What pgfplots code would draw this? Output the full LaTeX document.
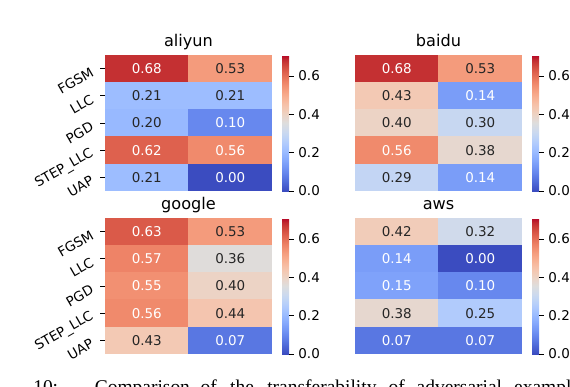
\documentclass[border=0pt]{standalone}
\usepackage{fontspec}
\setmainfont{DejaVu Sans}
\newfontfamily\capfont{Liberation Serif}
\usepackage{pgfplots}
\pgfplotsset{compat=1.18}
\usepackage{pgfplotstable}

\definecolor{annot}{RGB}{38,38,38}

% one heatmap cell: 2 columns x 5 rows on a 125.25pt x 102pt axis
\pgfdeclareplotmark{cell}{%
  \pgfpathrectangle{\pgfpoint{-31.4pt}{-10.3pt}}{\pgfpoint{62.8pt}{20.6pt}}%
  \pgfusepathqfill}

% x y value white-text(1)/dark-text(0)
\pgfplotstableread{
x y v w
0 0 0.68 1
1 0 0.53 0
0 1 0.21 0
1 1 0.21 0
0 2 0.20 0
1 2 0.10 1
0 3 0.62 1
1 3 0.56 1
0 4 0.21 0
1 4 0.00 1
}\aliyun
\pgfplotstableread{
x y v w
0 0 0.68 1
1 0 0.53 0
0 1 0.43 0
1 1 0.14 1
0 2 0.40 0
1 2 0.30 0
0 3 0.56 1
1 3 0.38 0
0 4 0.29 0
1 4 0.14 1
}\baidu
\pgfplotstableread{
x y v w
0 0 0.63 1
1 0 0.53 0
0 1 0.57 1
1 1 0.36 0
0 2 0.55 1
1 2 0.40 0
0 3 0.56 1
1 3 0.44 0
0 4 0.43 0
1 4 0.07 1
}\google
\pgfplotstableread{
x y v w
0 0 0.42 0
1 0 0.32 0
0 1 0.14 1
1 1 0.00 1
0 2 0.15 1
1 2 0.10 1
0 3 0.38 0
1 3 0.25 0
0 4 0.07 1
1 4 0.07 1
}\aws

\pgfplotsset{
  colormap={coolwarm}{
    rgb255=(59,76,192) rgb255=(68,90,204) rgb255=(77,104,215) rgb255=(87,117,225)
    rgb255=(98,130,234) rgb255=(108,142,241) rgb255=(119,154,247) rgb255=(130,165,251)
    rgb255=(141,176,254) rgb255=(152,185,255) rgb255=(163,194,255) rgb255=(174,201,253)
    rgb255=(184,208,249) rgb255=(194,213,244) rgb255=(204,217,238) rgb255=(213,219,230)
    rgb255=(221,221,221) rgb255=(229,216,209) rgb255=(236,211,197) rgb255=(241,204,184)
    rgb255=(245,196,173) rgb255=(247,187,160) rgb255=(247,177,148) rgb255=(247,166,135)
    rgb255=(244,154,123) rgb255=(241,141,111) rgb255=(236,127,99) rgb255=(229,112,88)
    rgb255=(222,96,77) rgb255=(213,80,66) rgb255=(203,62,56) rgb255=(192,40,47)
    rgb255=(180,4,38)},
  /pgf/number format/assume math mode=true,
  heat/.style={
    scale only axis, width=125.25pt, height=102pt,
    enlargelimits=false,
    xmin=-0.5, xmax=1.5, ymin=-0.5, ymax=4.5, y dir=reverse,
    axis line style={draw=none},
    xtick=\empty, ytick={0,...,4},
    ytick pos=left,
    tick align=outside, major tick length=3.5pt,
    major tick style={black, line width=0.6pt},
    minor xtick={0.5}, minor ytick={0.5,1.5,2.5,3.5},
    xminorgrids, yminorgrids,
    minor grid style={white, opacity=0.3, line width=0.5pt},
    minor tick length=0pt,
    axis on top,
    every axis title shift=0pt,
    title style={at={(0.5,1)}, anchor=base, yshift=6.75pt,
      font=\fontsize{12.1}{14}\selectfont},
    ticklabel style={font=\fontsize{10.1}{12}\selectfont},
    colormap name=coolwarm,
    point meta min=0, point meta max=0.71,
    colorbar,
    colorbar style={
      at={(parent axis.north east)}, anchor=north west, xshift=-1pt,
      scale only axis, width=5.25pt, height=102pt,
      axis line style={draw=none},
      ytick={0,0.2,0.4,0.6},
      ytick pos=right, yticklabel pos=right,
      tick align=outside, major tick length=3.5pt,
      major tick style={black, line width=0.6pt},
      ticklabel style={font=\fontsize{10.1}{12}\selectfont},
      yticklabel style={/pgf/number format/.cd, fixed, fixed zerofill, precision=1},
    },
  },
  rowlabels/.style={
    yticklabels={FGSM,LLC,PGD,STEP\_LLC,UAP},
    yticklabel style={xshift=-3pt, rotate=30, anchor=east},
  },
  norowlabels/.style={ytick=\empty},
  heatcells/.style={
    scatter, only marks, mark=cell, point meta=explicit,
    scatter/use mapped color={draw=none, fill=mapped color},
  },
  heatlabels/.style={
    draw=none, mark=none, point meta=explicit,
    visualization depends on={\thisrow{w}\as\wv},
    nodes near coords={\ifdim\wv pt>0.5pt\color{white}\else\color{annot}\fi
      \pgfmathprintnumber[fixed,fixed zerofill,precision=2]{\pgfplotspointmeta}},
    nodes near coords style={anchor=center, font=\fontsize{10.1}{12}\selectfont},
  },
}

\begin{document}
\begin{tikzpicture}
\useasboundingbox (0,0) rectangle (427.5pt,-289.5pt);
\clip (0,0) rectangle (427.5pt,-289.5pt);

\begin{axis}[heat, rowlabels, title={aliyun}, at={(78.75pt,-41.25pt)}, anchor=north west]
  \addplot[heatcells] table[x=x, y=y, meta=v] {\aliyun};
  \addplot[heatlabels] table[x=x, y=y, meta=v] {\aliyun};
\end{axis}

\begin{axis}[heat, norowlabels, title={baidu}, at={(266.25pt,-41.25pt)}, anchor=north west]
  \addplot[heatcells] table[x=x, y=y, meta=v] {\baidu};
  \addplot[heatlabels] table[x=x, y=y, meta=v] {\baidu};
\end{axis}

\begin{axis}[heat, rowlabels, title={google}, at={(78.75pt,-163.5pt)}, anchor=north west]
  \addplot[heatcells] table[x=x, y=y, meta=v] {\google};
  \addplot[heatlabels] table[x=x, y=y, meta=v] {\google};
\end{axis}

\begin{axis}[heat, norowlabels, title={aws}, at={(266.25pt,-163.5pt)}, anchor=north west]
  \addplot[heatcells] table[x=x, y=y, meta=v] {\aws};
  \addplot[heatlabels] table[x=x, y=y, meta=v] {\aws};
\end{axis}

\node[anchor=base west, inner sep=0pt, font=\capfont\fontsize{14.6}{17}\selectfont]
  at (24.75pt,-294.75pt) {10:\hspace{27.5pt}Comparison\hspace{8pt}of\hspace{10pt}the\hspace{10pt}transferability\hspace{9pt}of\hspace{9pt}adversarial\hspace{9pt}examples};
\end{tikzpicture}
\end{document}
